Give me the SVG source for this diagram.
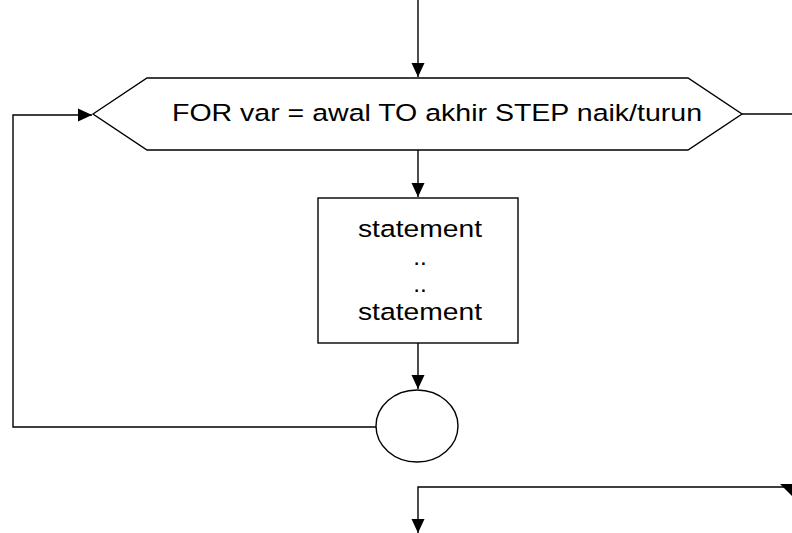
<svg xmlns="http://www.w3.org/2000/svg" width="792" height="533" viewBox="0 0 792 533">
<style>
.s{fill:#fff;stroke:#000;stroke-width:1.4}
.c{fill:none;stroke:#000;stroke-width:1.4}
.t{font-family:"Liberation Sans",Arial,sans-serif;font-size:24.5px;fill:#000;text-anchor:middle}
</style>
<defs>
<marker id="a" markerWidth="14" markerHeight="14" refX="14" refY="7" orient="auto" markerUnits="userSpaceOnUse">
<path d="M0,0.5 L14,7 L0,13.5 Z" fill="#000"/>
</marker>
</defs>
<rect width="792" height="533" fill="#fff"/>
<g id="connectors">
<path class="c" d="M418,0 V77" marker-end="url(#a)"/>
<path class="c" d="M418,150 V197" marker-end="url(#a)"/>
<path class="c" d="M418,343 V389" marker-end="url(#a)"/>
<path class="c" d="M376,427 H13 V115 H92" marker-end="url(#a)"/>
<path class="c" d="M742,114 H792"/>
<path class="c" d="M792,487 H418 V533" marker-end="url(#a)"/>
<path d="M780,484 L792,484 L792,496 Z" fill="#000"/>
</g>
<g id="for">
<polygon class="s" points="93,114 147,78 688,78 742,114 688,150 147,150"/>
<text class="t" x="437" y="121" textLength="530" lengthAdjust="spacingAndGlyphs">FOR var = awal TO akhir STEP naik/turun</text>
</g>
<g id="body">
<rect class="s" x="318" y="198" width="200" height="145"/>
<text class="t" x="420" y="237" textLength="124" lengthAdjust="spacingAndGlyphs">statement</text>
<text class="t" x="420" y="265">..</text>
<text class="t" x="420" y="292">..</text>
<text class="t" x="420" y="320" textLength="124" lengthAdjust="spacingAndGlyphs">statement</text>
</g>
<g id="end">
<ellipse class="s" cx="417" cy="426" rx="41" ry="36"/>
</g>
</svg>
